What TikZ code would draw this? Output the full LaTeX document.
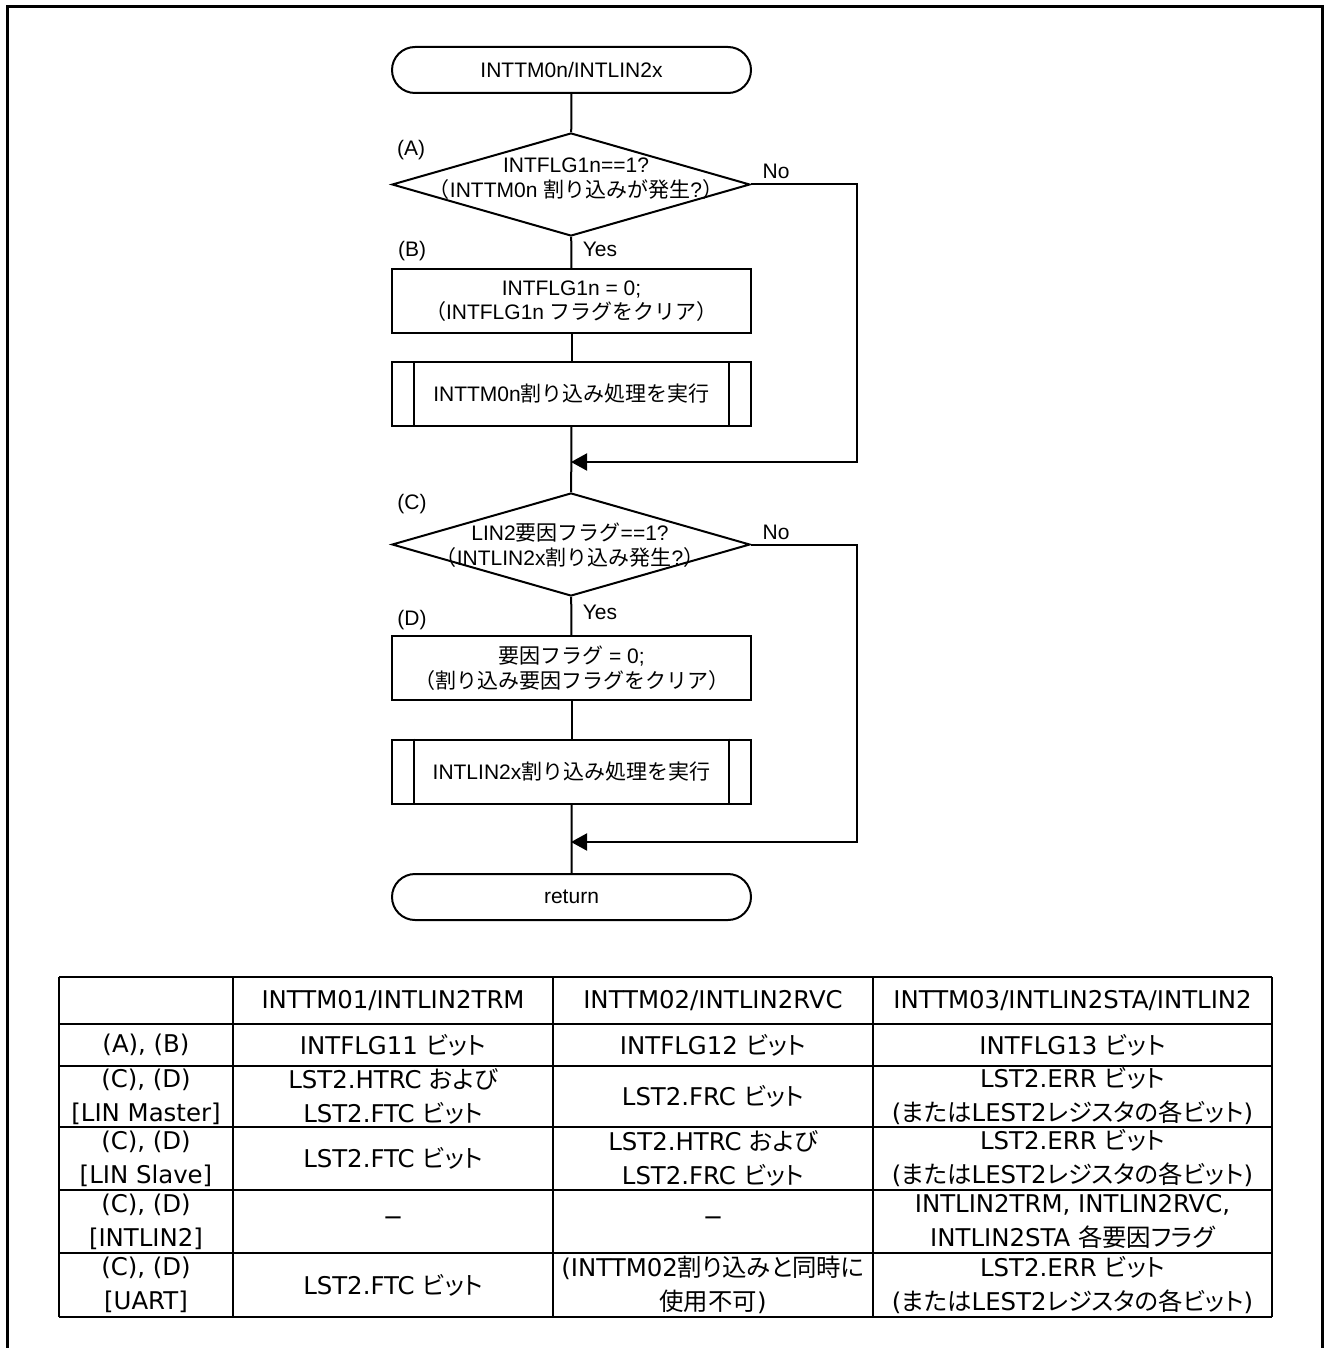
\documentclass[tikz,border=0pt]{standalone}
\usepackage{fontspec}
\setmainfont{Liberation Sans}
\newfontfamily\jpfont{Noto Sans CJK JP}
\newfontfamily\tabfont{DejaVu Sans}
\newfontfamily\tjfont[RawFeature=+palt]{Noto Sans CJK JP}
\newcommand\jt[1]{{\jpfont #1}}
\newcommand\tj[1]{{\tjfont #1}}
\newcommand\fcfont{\fontsize{10.5pt}{12.2pt}\selectfont}
\newcommand\tabsize{\fontsize{12.2pt}{17pt}\selectfont}
\usetikzlibrary{shapes.geometric,shapes.misc,arrows.meta}

\begin{document}
\begin{tikzpicture}[x=0.5pt,y=-0.5pt,
  ln/.style={line width=1pt},
  terminal/.style={draw,line width=1pt,rounded rectangle,minimum width=179.5pt,minimum height=23pt,inner sep=0pt,font=\fcfont},
  decision/.style={draw,line width=1pt,diamond,minimum width=179pt,minimum height=51.5pt,inner sep=0pt},
  process/.style={draw,line width=1pt,rectangle,minimum width=179.5pt,minimum height=32pt,inner sep=0pt,align=center,font=\fcfont},
  flowlabel/.style={font=\fcfont,inner sep=0pt,align=center},
  mergearrow/.style={line width=1pt,-{Triangle[length=8pt,width=8.5pt]}},
  tabrule/.style={line width=1.1pt},
  tabcell/.style={font=\tabfont\tabsize,align=center,inner sep=0pt},
]
\useasboundingbox (0,0) rectangle (1324,1348);
\clip (0,0) rectangle (1324,1348);

% outer frame (open at the bottom edge of the sheet)
\draw[line width=1.5pt] (7,1370) -- (7,7) -- (1322.5,7) -- (1322.5,1370);

% ---------------- flowchart ----------------
\node[terminal] (start) at (571.5,70) {INTTM0n/INTLIN2x};
\node[decision] (dA) at (571,184.5) {};
\node[flowlabel] (tA) at (576,178.5) {INTFLG1n==1?\\\jt{（}INTTM0n \jt{割り込みが発生}?\jt{）}};
\node[process] (pB) at (571.5,301) {INTFLG1n = 0;\\\jt{（}INTFLG1n \jt{フラグをクリア）}};
\node[process] (sA) at (571.5,394) {INTTM0n\jt{割り込み処理を実行}};
\draw[ln] ([xshift=11.5pt]sA.north west) -- ([xshift=11.5pt]sA.south west);
\draw[ln] ([xshift=-11.5pt]sA.north east) -- ([xshift=-11.5pt]sA.south east);

\node[decision] (dC) at (571,544.5) {};
\node[flowlabel] (tC) at (570,545) {LIN2\jt{要因フラグ}==1?\\\jt{（}INTLIN2x\jt{割り込み発生}?\jt{）}};
\node[process] (pD) at (571.5,668) {\jt{要因フラグ} = 0;\\\jt{（割り込み要因フラグをクリア）}};
\node[process] (sC) at (571.5,771.5) {INTLIN2x\jt{割り込み処理を実行}};
\draw[ln] ([xshift=11.5pt]sC.north west) -- ([xshift=11.5pt]sC.south west);
\draw[ln] ([xshift=-11.5pt]sC.north east) -- ([xshift=-11.5pt]sC.south east);

\node[terminal] (stop) at (571.5,897) {return};

% branch labels
\node[flowlabel] (lA) at (411,150) {(A)};
\node[flowlabel] (lB) at (412,251) {(B)};
\node[flowlabel] (lC) at (412,504) {(C)};
\node[flowlabel] (lD) at (412,620) {(D)};
\node[flowlabel] (noA) at (776,171) {No};
\node[flowlabel] (yesA) at (600,249) {Yes};
\node[flowlabel] (noC) at (776,532) {No};
\node[flowlabel] (yesC) at (600,612) {Yes};

% connectors
\coordinate (m1) at (571,462);
\coordinate (r1) at (857,462);
\coordinate (m2) at (571,842);
\coordinate (r2) at (857,842);
\draw[ln] (start) -- (dA);
\draw[ln] (dA) -- (pB);
\draw[ln] (pB) -- (sA);
\draw[ln] (sA) -- (dC);
\draw[mergearrow] (dA.east) -| (r1) -- (m1);
\draw[ln] (dC) -- (pD);
\draw[ln] (pD) -- (sC);
\draw[ln] (sC) -- (stop);
\draw[mergearrow] (dC.east) -| (r2) -- (m2);

% ---------------- table ----------------
\foreach \y in {977,1024,1066,1127,1190,1253,1317}
  \draw[tabrule] (59,\y) -- (1272,\y);
\foreach \x in {59,233,553,873,1272}
  \draw[tabrule] (\x,977) -- (\x,1317);

% header row
\node[tabcell] (h2) at (393,1001) {INTTM01/INTLIN2TRM};
\node[tabcell] (h3) at (713,1001) {INTTM02/INTLIN2RVC};
\node[tabcell] (h4) at (1072.5,1001) {INTTM03/INTLIN2STA/INTLIN2};
% (A), (B)
\node[tabcell] (r1c1) at (146,1045) {(A), (B)};
\node[tabcell] (r1c2) at (393,1045) {INTFLG11 \tj{ビット}};
\node[tabcell] (r1c3) at (713,1045) {INTFLG12 \tj{ビット}};
\node[tabcell] (r1c4) at (1072.5,1045) {INTFLG13 \tj{ビット}};
% LIN Master
\node[tabcell] (r2c1) at (146,1096.5) {(C), (D)\\{[}LIN Master{]}};
\node[tabcell] (r2c2) at (393,1096.5) {LST2.HTRC \tj{および}\\LST2.FTC \tj{ビット}};
\node[tabcell] (r2c3) at (713,1096.5) {LST2.FRC \tj{ビット}};
\node[tabcell] (r2c4) at (1072.5,1096.5) {LST2.ERR \tj{ビット}\\(\tj{または}LEST2\tj{レジスタの各ビット})};
% LIN Slave
\node[tabcell] (r3c1) at (146,1158.5) {(C), (D)\\{[}LIN Slave{]}};
\node[tabcell] (r3c2) at (393,1158.5) {LST2.FTC \tj{ビット}};
\node[tabcell] (r3c3) at (713,1158.5) {LST2.HTRC \tj{および}\\LST2.FRC \tj{ビット}};
\node[tabcell] (r3c4) at (1072.5,1158.5) {LST2.ERR \tj{ビット}\\(\tj{または}LEST2\tj{レジスタの各ビット})};
% INTLIN2
\node[tabcell] (r4c1) at (146,1221.5) {(C), (D)\\{[}INTLIN2{]}};
\node[tabcell] (r4c2) at (393,1221.5) {−};
\node[tabcell] (r4c3) at (713,1221.5) {−};
\node[tabcell] (r4c4) at (1072.5,1221.5) {INTLIN2TRM, INTLIN2RVC,\\INTLIN2STA \tj{各要因フラグ}};
% UART
\node[tabcell] (r5c1) at (146,1285) {(C), (D)\\{[}UART{]}};
\node[tabcell] (r5c2) at (393,1285) {LST2.FTC \tj{ビット}};
\node[tabcell] (r5c3) at (713,1285) {(INTTM02\tj{割り込みと同時に}\\\tj{使用不可})};
\node[tabcell] (r5c4) at (1072.5,1285) {LST2.ERR \tj{ビット}\\(\tj{または}LEST2\tj{レジスタの各ビット})};
\end{tikzpicture}
\end{document}
